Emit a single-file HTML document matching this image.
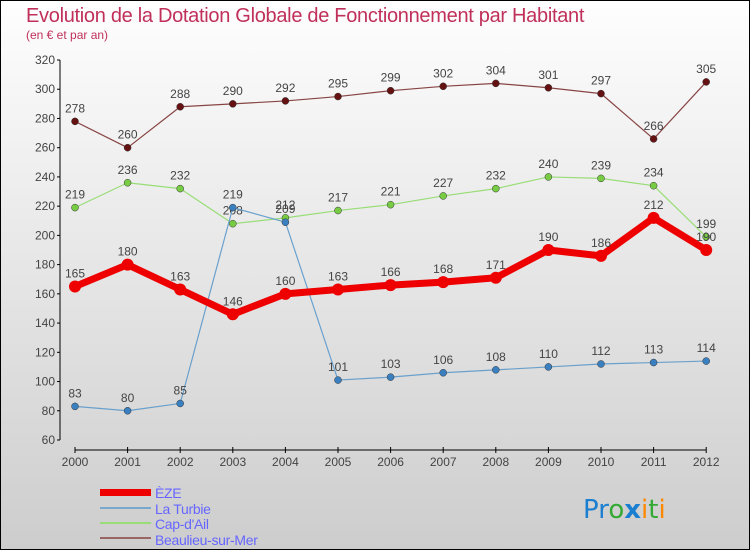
<!DOCTYPE html>
<html><head><meta charset="utf-8"><style>
body{margin:0}
#c{width:750px;height:550px;position:relative;font-family:"Liberation Sans",sans-serif}
</style></head><body>
<div id="c">
<svg id="s" width="750" height="550" xmlns="http://www.w3.org/2000/svg">
<defs><linearGradient id="bg" x1="0" y1="0" x2="0" y2="1"><stop offset="0" stop-color="#fefefe"/><stop offset="1" stop-color="#cdcdcd"/></linearGradient></defs>
<rect x="0.5" y="0.5" width="749" height="549" fill="url(#bg)" stroke="#000"/>
<text x="26" y="22" font-size="20" fill="#c0305a" letter-spacing="-0.3" font-weight="300">Evolution de la Dotation Globale de Fonctionnement par Habitant</text>
<text x="26" y="39" font-size="12" fill="#c0305a">(en € et par an)</text>
<g id="axes"></g><g id="series"></g>
<g>
<rect x="100" y="489" width="51" height="7" fill="#e00"/>
<text x="155" y="498" font-size="14" letter-spacing="-0.3" fill="#6666ff">ÈZE</text>
<line x1="100" y1="508" x2="151" y2="508" stroke="#7aa8cc" stroke-width="2"/>
<text x="155" y="514" font-size="14" letter-spacing="-0.3" fill="#6666ff">La Turbie</text>
<line x1="100" y1="523" x2="151" y2="523" stroke="#99dd77" stroke-width="2"/>
<text x="155" y="529" font-size="14" letter-spacing="-0.3" fill="#6666ff">Cap-d'Ail</text>
<line x1="100" y1="538" x2="151" y2="538" stroke="#996666" stroke-width="2"/>
<text x="155" y="545" font-size="14" letter-spacing="-0.3" fill="#6666ff">Beaulieu-sur-Mer</text>
</g>
<text x="583" y="518" font-size="26" font-family="'DejaVu Sans',sans-serif"><tspan fill="#1a7fd0">Pr</tspan><tspan fill="#3a3">o</tspan><tspan fill="#1a7fd0" font-weight="bold">x</tspan><tspan fill="#f80">i</tspan><tspan fill="#3a3">t</tspan><tspan fill="#f80">i</tspan></text>
</svg></div>
<script>
const years=[2000,2001,2002,2003,2004,2005,2006,2007,2008,2009,2010,2011,2012];
const yTicks=[60,80,100,120,140,160,180,200,220,240,260,280,300,320];
const eze=[165,180,163,146,160,163,166,168,171,190,186,212,190];
const turbie=[83,80,85,219,209,101,103,106,108,110,112,113,114];
const capdail=[219,236,232,208,212,217,221,227,232,240,239,234,199];
const beaulieu=[278,260,288,290,292,295,299,302,304,301,297,266,305];
const NS="http://www.w3.org/2000/svg";
const X=i=>75+i*52.6;
const Y=v=>440-(v-60)*380/260;
function mk(t,a,p){const e=document.createElementNS(NS,t);for(const k in a)e.setAttribute(k,a[k]);p.appendChild(e);return e;}
const ax=document.getElementById('axes');
const ya=mk('line',{x1:60,y1:60,x2:60,y2:440,stroke:'#000'},ax);


yTicks.forEach(v=>{
 mk('line',{x1:57,y1:Y(v),x2:60,y2:Y(v),stroke:'#000'},ax);
 const t=mk('text',{x:55,y:Y(v)+4,'font-size':12,fill:'#444','text-anchor':'end'},ax);
 t.textContent=v;
 
 
});
const xa=mk('line',{x1:75,y1:450,x2:X(12),y2:450,stroke:'#000'},ax);


years.forEach((y,i)=>{
 mk('line',{x1:X(i),y1:447,x2:X(i),y2:453,stroke:'#000'},ax);
 const t=mk('text',{x:X(i),y:466,'font-size':12,fill:'#444','text-anchor':'middle'},ax);
 t.textContent=y;
 
 
});
const sg=document.getElementById('series');
function series(data,name,color,dot,w,r){
 const g=mk('g',{},sg);
 
 
 const pl=mk('polyline',{points:data.map((v,i)=>X(i)+','+Y(v)).join(' '),fill:'none',stroke:color,'stroke-width':w,'stroke-linejoin':'round'},g);
 
 
 data.forEach((v,i)=>{
  const c=mk('circle',{cx:X(i),cy:Y(v),r:r,fill:dot,stroke:w>3?'none':'#333','stroke-width':0.5},g);
  
  
  const t=mk('text',{x:X(i),y:Y(v)-9,'font-size':12,fill:'#444','text-anchor':'middle'},g);
  t.textContent=v;
  
  
 });
}
series(beaulieu,'beaulieu','#884444','#661111',1.2,3.5);
series(capdail,'cap-dail','#99dd77','#77cc44',1.2,3.5);
series(turbie,'la-turbie','#6aa0cc','#3a80c0',1.2,3.5);
series(eze,'eze','#ee0000','#ee0000',7,6);
</script>
</body></html>
